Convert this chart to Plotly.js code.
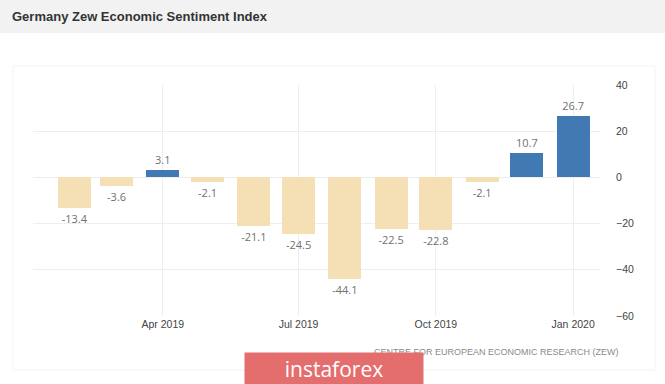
<!DOCTYPE html>
<html>
<head>
<meta charset="utf-8">
<script src="https://cdn.plot.ly/plotly-3.0.1.min.js"></script>
<style>
  html, body { margin: 0; padding: 0; background: #ffffff; }
  #chart { width: 665px; height: 384px; }
</style>
</head>
<body>
<div id="chart"></div>
<script>
// ---- data ----
const months = ["2019-02-01","2019-03-01","2019-04-01","2019-05-01","2019-06-01","2019-07-01",
                "2019-08-01","2019-09-01","2019-10-01","2019-11-01","2019-12-01","2020-01-01"];
const sentiment = [-13.4, -3.6, 3.1, -2.1, -21.1, -24.5, -44.1, -22.5, -22.8, -2.1, 10.7, 26.7];
const titleText = "Germany Zew Economic Sentiment Index";
const sourceText = "CENTRE FOR EUROPEAN ECONOMIC RESEARCH (ZEW)";
const watermarkText = "instaforex";

// ---- styles ----
const POS = "#4179b3";
const NEG = "#f5dfb4";

// pixel helpers (plot area: x 33..600, y 85..316)
const L = 33, R = 600, T = 85, B = 316;
const px = x => (x - L) / (R - L);
const py = y => (B - y) / (B - T);

const trace = {
  type: "bar",
  x: months,
  y: sentiment,
  width: 22 * 86400000,
  marker: { color: sentiment.map(v => v >= 0 ? POS : NEG) },
  text: sentiment.map(v => v.toFixed(1)),
  textposition: "outside",
  cliponaxis: false,
  textfont: { family: "Open Sans, sans-serif", size: 11, color: "#707070" },
  hoverinfo: "x+y"
};

const layout = {
  width: 665, height: 384, autosize: false,
  margin: { l: L, r: 665 - R, t: T, b: 384 - B, pad: 0 },
  paper_bgcolor: "#ffffff",
  plot_bgcolor: "rgba(0,0,0,0)",
  showlegend: false,
  bargap: 0,
  title: {
    text: "<b>" + titleText + "</b>",
    x: 12 / 665, xref: "container", xanchor: "left",
    y: 1 - 16 / 384, yref: "container", yanchor: "middle",
    font: { family: "Liberation Sans, Arial, sans-serif", size: 13, color: "#333333" }
  },
  xaxis: {
    type: "date",
    range: ["2019-01-04", "2020-01-19"],
    tick0: "2019-01-01", dtick: "M3",
    tickformat: "%b %Y",
    showgrid: true, gridcolor: "#eeeeee", gridwidth: 1,
    zeroline: false, showline: false, ticks: "",
    tickfont: { family: "Liberation Sans, Arial, sans-serif", size: 10.5, color: "#444444" },
    fixedrange: true
  },
  yaxis: {
    side: "right",
    range: [-60, 40],
    dtick: 20, tick0: 0,
    showgrid: true, gridcolor: "#eeeeee", gridwidth: 1,
    zeroline: false, showline: false, ticks: "",
    ticklabelstandoff: 15,
    tickfont: { family: "Liberation Sans, Arial, sans-serif", size: 10.5, color: "#444444" },
    fixedrange: true
  },
  shapes: [
    // header band
    { type: "rect", xref: "paper", yref: "paper", layer: "below",
      x0: px(0), x1: px(665), y0: py(33), y1: py(0),
      fillcolor: "#f2f2f2", line: { width: 0 } },
    // panel border
    { type: "rect", xref: "paper", yref: "paper", layer: "below",
      x0: px(13), x1: px(655), y0: py(370), y1: py(66),
      fillcolor: "rgba(0,0,0,0)", line: { color: "#f3f3f3", width: 1 } }
  ],
  annotations: [
    { text: sourceText, xref: "paper", yref: "paper",
      x: px(621), y: py(352), xanchor: "right", yanchor: "middle", showarrow: false,
      font: { family: "Liberation Sans, Arial, sans-serif", size: 9, color: "#8a8a8a" } },
    { text: watermarkText, xref: "paper", yref: "paper",
      x: px(334), y: py(368.5), xanchor: "center", yanchor: "middle", showarrow: false,
      width: 178, height: 31, bgcolor: "#e46e6e", borderpad: 0,
      font: { family: "Open Sans, sans-serif", size: 21, color: "#ffffff" } }
  ]
};

Plotly.newPlot("chart", [trace], layout, { displayModeBar: false, staticPlot: true });
</script>
</body>
</html>
